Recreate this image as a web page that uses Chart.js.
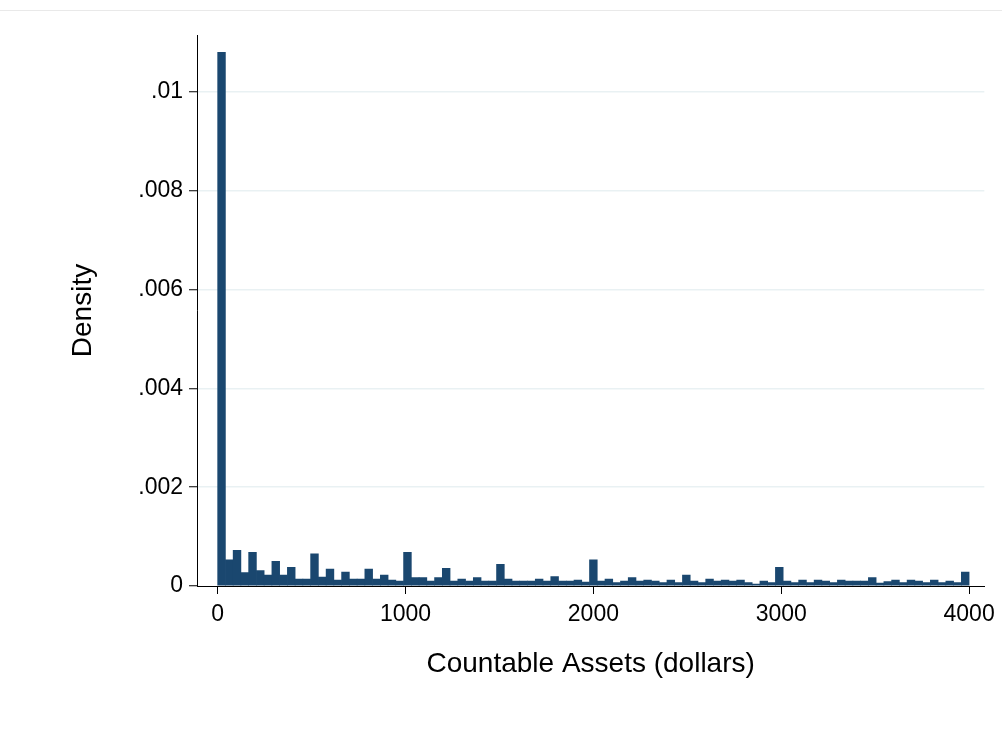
<!DOCTYPE html>
<html>
<head>
<meta charset="utf-8">
<script src="https://cdn.jsdelivr.net/npm/chart.js@4/dist/chart.umd.min.js"></script>
<style>
  html, body { margin: 0; padding: 0; background: #ffffff; }
  #wrap { width: 1002px; height: 732px; }
</style>
</head>
<body>
<div id="wrap"><canvas id="hist" width="1002" height="732"></canvas></div>
<script>
// Histogram of countable assets: 97 equal-width bins spanning 0 to 4000 dollars
const binCount = 97;
const assetMax = 4000;

// Density of each bin, in order from the lowest bin upward
const density = [
  0.0108, 0.00053, 0.00072, 0.00027, 0.00068, 0.00031, 0.00022, 0.00050, 0.00022, 0.00038,
  0.00014, 0.00014, 0.00065, 0.00018, 0.00034, 0.00012, 0.00028, 0.00014, 0.00014, 0.00034,
  0.00014, 0.00022, 0.00012, 0.00010, 0.00068, 0.00017, 0.00017, 0.00010, 0.00017, 0.00036,
  0.00010, 0.00014, 0.00010, 0.00017, 0.00010, 0.00010, 0.00044, 0.00014, 0.00010, 0.00010,
  0.00010, 0.00014, 0.00010, 0.00019, 0.00010, 0.00010, 0.00012, 0.00008, 0.00053, 0.00010,
  0.00014, 0.00007, 0.00010, 0.00017, 0.00010, 0.00012, 0.00010, 0.00007, 0.00012, 0.00007,
  0.00022, 0.00010, 0.00007, 0.00014, 0.00010, 0.00012, 0.00010, 0.00012, 0.00007, 0.00004,
  0.00010, 0.00007, 0.00038, 0.00010, 0.00007, 0.00012, 0.00007, 0.00012, 0.00010, 0.00007,
  0.00012, 0.00010, 0.00010, 0.00010, 0.00017, 0.00006, 0.00009, 0.00012, 0.00007, 0.00012,
  0.00010, 0.00007, 0.00012, 0.00007, 0.00010, 0.00007, 0.00028
];

// Axis tick values
const xTicks = [0, 1000, 2000, 3000, 4000];
const yTicks = [0, 0.002, 0.004, 0.006, 0.008, 0.01];

const binWidth = assetMax / binCount;
const binCenters = density.map((_, i) => (i + 0.5) * binWidth);
const points = binCenters.map((x, i) => ({ x: x, y: density[i] }));

const tickFont = { family: '"Liberation Sans", Arial, sans-serif', size: 23 };
const titleFont = { family: '"Liberation Sans", Arial, sans-serif', size: 28 };

function densityLabel(v) {
  if (v === 0) return '0';
  return v.toFixed(3).replace(/0+$/, '').replace(/^0/, '');
}

// Faint rule across the top of the graph region
const topRule = {
  id: 'topRule',
  beforeDraw(chart) {
    const ctx = chart.ctx;
    ctx.save();
    ctx.fillStyle = '#ffffff';
    ctx.fillRect(0, 0, chart.width, chart.height);
    ctx.strokeStyle = '#e9e9e9';
    ctx.lineWidth = 1;
    ctx.beginPath();
    ctx.moveTo(0, 10.5);
    ctx.lineTo(chart.width, 10.5);
    ctx.stroke();
    ctx.restore();
  }
};

new Chart(document.getElementById('hist'), {
  type: 'bar',
  data: {
    datasets: [{
      data: points,
      backgroundColor: '#1a476f',
      borderColor: '#1a476f',
      borderWidth: 0,
      barPercentage: 1.0,
      categoryPercentage: 1.0
    }]
  },
  options: {
    responsive: false,
    animation: false,
    layout: { padding: { top: 35, right: 17, left: 0, bottom: 0 } },
    plugins: {
      legend: { display: false },
      tooltip: { enabled: false }
    },
    scales: {
      x: {
        type: 'linear',
        min: -110,
        max: 4081,
        offset: false,
        afterFit(scale) { scale.height = 146; },
        afterBuildTicks(scale) { scale.ticks = xTicks.map(v => ({ value: v })); },
        ticks: {
          color: '#000',
          font: tickFont,
          padding: 7,
          maxRotation: 0,
          callback: v => String(v)
        },
        grid: {
          offset: false,
          drawOnChartArea: false,
          drawTicks: true,
          tickLength: 8,
          tickColor: '#000',
          tickWidth: 1
        },
        border: { display: true, color: '#000', width: 1 },
        title: {
          display: true,
          text: 'Countable Assets (dollars)',
          color: '#000',
          font: titleFont,
          padding: { top: 0, bottom: 51 }
        }
      },
      y: {
        type: 'linear',
        min: 0,
        max: 0.01115,
        afterFit(scale) { scale.width = 197; },
        afterBuildTicks(scale) { scale.ticks = yTicks.map(v => ({ value: v })); },
        ticks: {
          color: '#000',
          font: tickFont,
          padding: 6,
          callback: v => densityLabel(v)
        },
        grid: {
          offset: false,
          drawOnChartArea: true,
          drawTicks: true,
          tickLength: 8,
          tickColor: '#000',
          tickWidth: 1,
          lineWidth: 1.5,
          color: ctx => (ctx.tick && ctx.tick.value === 0) ? 'rgba(0,0,0,0)' : '#e9f1f3'
        },
        border: { display: true, color: '#000', width: 1 },
        title: {
          display: true,
          text: 'Density',
          color: '#000',
          font: titleFont,
          padding: { top: 66, bottom: 0 }
        }
      }
    }
  },
  plugins: [topRule]
});
</script>
</body>
</html>
